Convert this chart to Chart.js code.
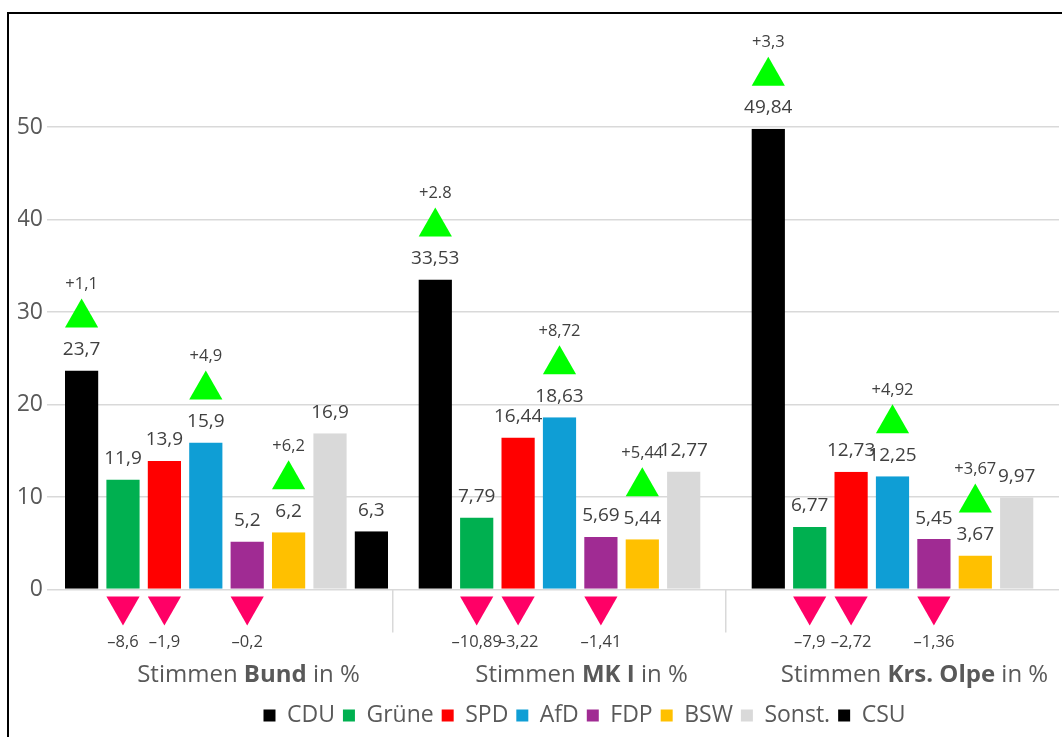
<!DOCTYPE html>
<html>
<head>
<meta charset="utf-8">
<script src="https://cdn.jsdelivr.net/npm/chart.js@4.4.1/dist/chart.umd.min.js"></script>
<style>
  html, body { margin: 0; padding: 0; background: #fff; overflow: hidden; }
  #wrap { position: relative; width: 1062px; height: 737px; overflow: hidden; }
  #frame { position: absolute; left: 7px; top: 12px; width: 1200px; height: 900px;
           border-left: 2px solid #000; border-top: 2px solid #000; }
  #c { position: absolute; left: 0; top: 0; }
</style>
</head>
<body>
<div id="wrap"><div id="frame"></div><canvas id="c" width="1062" height="737"></canvas></div>
<script>
// ---------- data ----------
const categories = [
  ['Stimmen ', 'Bund', ' in %'],
  ['Stimmen ', 'MK I', ' in %'],
  ['Stimmen ', 'Krs. Olpe', ' in %']
];
const parties = ['CDU', 'Grüne', 'SPD', 'AfD', 'FDP', 'BSW', 'Sonst.', 'CSU'];
const partyColors = ['#000000', '#00B050', '#FF0000', '#0F9ED5', '#A02B93', '#FFC000', '#D9D9D9', '#000000'];

const cdu    = [23.7, 33.53, 49.84];
const gruene = [11.9, 7.79, 6.77];
const spd    = [13.9, 16.44, 12.73];
const afd    = [15.9, 18.63, 12.25];
const fdp    = [5.2, 5.69, 5.45];
const bsw    = [6.2, 5.44, 3.67];
const sonst  = [16.9, 12.77, 9.97];
const csu    = [6.3, null, null];

const deltaCdu    = ['+1,1', '+2.8', '+3,3'];
const deltaGruene = ['–8,6', '–10,89', '–7,9'];
const deltaSpd    = ['–1,9', '–3,22', '–2,72'];
const deltaAfd    = ['+4,9', '+8,72', '+4,92'];
const deltaFdp    = ['–0,2', '–1,41', '–1,36'];
const deltaBsw    = ['+6,2', '+5,44', '+3,67'];
const deltaSonst  = [null, null, null];
const deltaCsu    = [null, null, null];

const yTicks = [0, 10, 20, 30, 40, 50];

const seriesValues = [cdu, gruene, spd, afd, fdp, bsw, sonst, csu];
const seriesDeltas = [deltaCdu, deltaGruene, deltaSpd, deltaAfd, deltaFdp, deltaBsw, deltaSonst, deltaCsu];

// ---------- styling ----------
const FONT = '"Open Sans", Lato, sans-serif';
const TEXT = '#595959';
const LABEL = '#404040';
const GRID = '#D9D9D9';
const UP = '#00FF00';
const DOWN = '#FF0066';
const SLOT = 41.4;       // bar slot width
const GAP = 4.1;         // transparent side border -> visible gap
const X_TICK_LEN = 43;

const fmt = v => String(v).replace('.', ',');

// ---------- plugins ----------
const barAnnotations = {
  id: 'barAnnotations',
  afterDatasetsDraw(chart) {
    const ctx = chart.ctx;
    const zero = chart.scales.y.getPixelForValue(0);
    ctx.save();
    ctx.textAlign = 'center';
    ctx.textBaseline = 'middle';
    chart.data.datasets.forEach((ds, di) => {
      const meta = chart.getDatasetMeta(di);
      if (meta.hidden) return;
      meta.data.forEach((bar, i) => {
        const v = ds.data[i];
        if (v === null || v === undefined) return;
        const p = bar.getProps(['x', 'y', 'width'], true);
        const w = p.width - 2 * GAP;
        const top = p.y;
        ctx.fillStyle = LABEL;
        ctx.font = '19px ' + FONT;
        ctx.fillText(fmt(v), p.x, top - 21);
        const d = ds.deltas[i];
        if (!d) return;
        if (d.charAt(0) === '+') {
          const b = top - 43, t = top - 72;
          ctx.fillStyle = UP;
          ctx.beginPath();
          ctx.moveTo(p.x - w / 2, b);
          ctx.lineTo(p.x + w / 2, b);
          ctx.lineTo(p.x, t);
          ctx.closePath();
          ctx.fill();
          ctx.fillStyle = LABEL;
          ctx.font = '16.5px ' + FONT;
          ctx.fillText(d, p.x, t - 14);
        } else {
          const t = zero + 7, b = zero + 36;
          ctx.fillStyle = DOWN;
          ctx.beginPath();
          ctx.moveTo(p.x - w / 2, t);
          ctx.lineTo(p.x + w / 2, t);
          ctx.lineTo(p.x, b);
          ctx.closePath();
          ctx.fill();
          ctx.fillStyle = LABEL;
          ctx.font = '16.5px ' + FONT;
          ctx.fillText(d, p.x, b + 17);
        }
      });
    });
    ctx.restore();
  }
};

const richXLabels = {
  id: 'richXLabels',
  afterDraw(chart) {
    const ctx = chart.ctx;
    const xs = chart.scales.x;
    const y = chart.chartArea.bottom + 86;
    ctx.save();
    ctx.textBaseline = 'middle';
    ctx.textAlign = 'left';
    ctx.fillStyle = TEXT;
    const normal = '24px ' + FONT;
    const bold = 'bold 24px ' + FONT;
    categories.forEach((parts, i) => {
      const fonts = [normal, bold, normal];
      let total = 0;
      const widths = parts.map((s, k) => { ctx.font = fonts[k]; const m = ctx.measureText(s).width; total += m; return m; });
      let x = xs.getPixelForValue(i) + 22 - total / 2;
      parts.forEach((s, k) => { ctx.font = fonts[k]; ctx.fillText(s, x, y); x += widths[k]; });
    });
    ctx.restore();
  }
};

const legendShift = {
  id: 'legendShift',
  afterLayout(chart) {
    const lg = chart.legend;
    if (lg) { lg.left += 46; lg.right += 46; }
  }
};

// ---------- chart ----------
const datasets = parties.map((name, i) => ({
  label: name,
  data: seriesValues[i],
  deltas: seriesDeltas[i],
  backgroundColor: partyColors[i],
  borderColor: 'rgba(0,0,0,0)',
  borderWidth: { left: GAP, right: GAP, top: 0, bottom: 0 },
  borderSkipped: false,
  barThickness: SLOT,
  skipNull: true,
  inflateAmount: 0
}));

new Chart(document.getElementById('c'), {
  type: 'bar',
  data: { labels: categories.map(p => p.join('')), datasets },
  options: {
    responsive: false,
    animation: false,
    layout: { padding: { top: 81, left: 18, right: 3, bottom: 0 } },
    scales: {
      x: {
        type: 'category',
        offset: true,
        border: { display: false },
        grid: {
          offset: true,
          drawOnChartArea: false,
          drawTicks: true,
          tickLength: X_TICK_LEN,
          lineWidth: 1.5,
          color: c => (c.type === 'tick' && c.index > 0) ? GRID : 'rgba(0,0,0,0)'
        },
        ticks: { display: false },
        afterFit: s => { s.height = 106.5; }
      },
      y: {
        min: 0,
        max: 55,
        border: { display: false },
        grid: { color: GRID, lineWidth: 1.5, drawTicks: true, tickLength: 13 },
        ticks: {
          includeBounds: false,
          color: TEXT,
          padding: 4,
          font: { family: FONT, size: 23 },
          callback: v => String(v)
        },
        afterBuildTicks: s => { s.ticks = yTicks.map(v => ({ value: v })); },
        afterFit: s => { s.width = 42; }
      }
    },
    plugins: {
      tooltip: { enabled: false },
      legend: {
        position: 'bottom',
        labels: {
          boxWidth: 12,
          boxHeight: 12,
          padding: 8,
          color: TEXT,
          font: { family: FONT, size: 23 }
        }
      }
    }
  },
  plugins: [barAnnotations, richXLabels, legendShift]
});
</script>
</body>
</html>
